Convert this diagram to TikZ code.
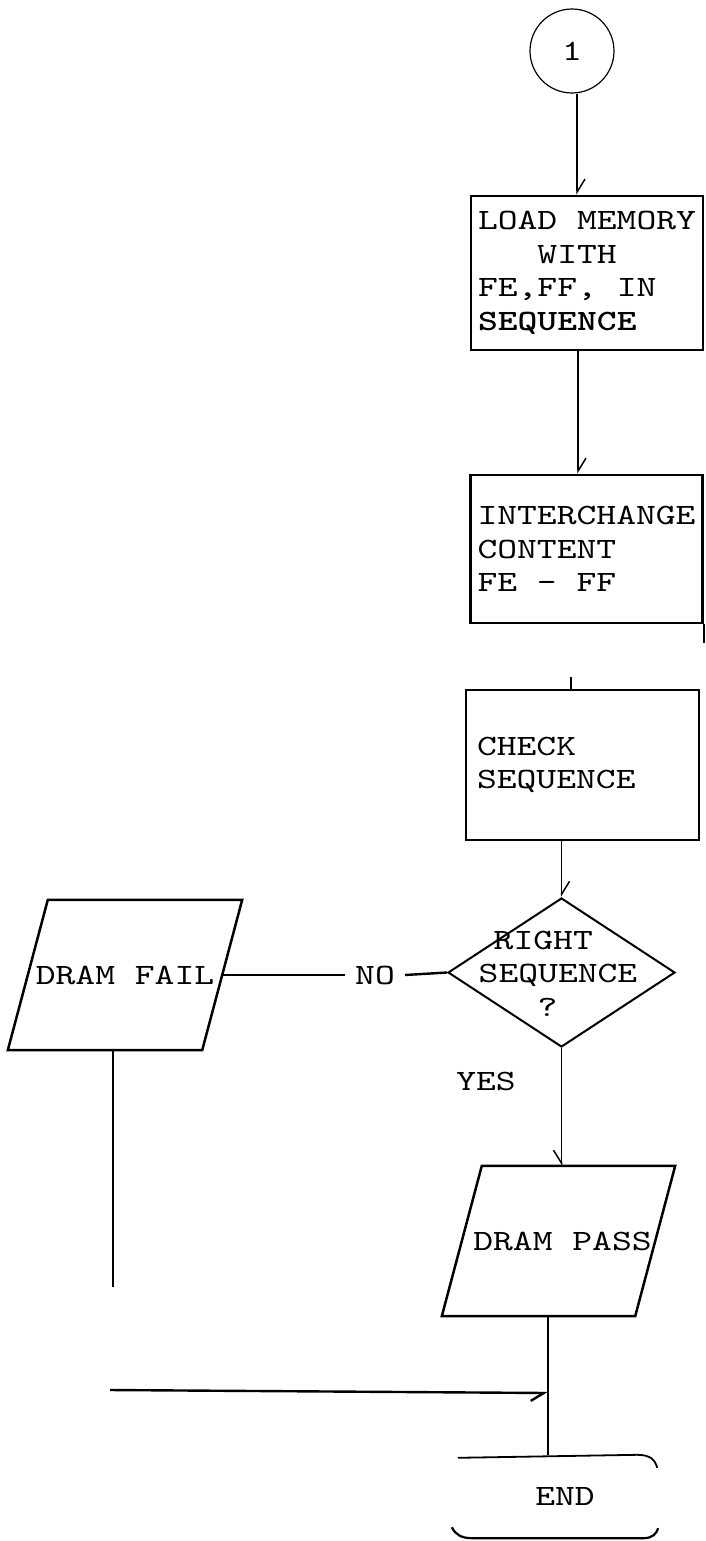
\documentclass[tikz,border=0pt]{standalone}
\usepackage{fontspec}
\newfontfamily\typew{lmmono10-regular.otf}[FakeStretch=1.28, BoldFont=lmmonolt10-bold.otf]
\usetikzlibrary{shapes.geometric, arrows.meta}

\tikzset{
  txt/.style={font=\typew\fontsize{29.5}{33.5}\selectfont},
  procbox/.style={txt, draw, line width=2.5pt, rectangle, align=flush left,
    inner xsep=7pt, inner ysep=0pt, text width=218pt, minimum width=232pt},
  % body of an input/output block; its slanted outline is drawn by \iooutline
  iobody/.style={txt, inner sep=0pt, minimum width=194pt, minimum height=150pt},
  decis/.style={draw, diamond, line width=2pt, minimum width=227pt,
    minimum height=149pt, inner sep=0pt},
  conn/.style={line width=1.5pt},
  heavy/.style={line width=2.4pt},
  barbl/.style={-{Straight Barb[harpoon, length=13pt, width=16pt]}},
  barbr/.style={-{Straight Barb[harpoon, swap, length=13pt, width=16pt]}},
}
% parallelogram round a named node, slant of 20pt on each side
\newcommand\iooutline[1]{%
  \draw[line width=2.5pt, line join=miter]
    ([xshift=20pt]#1.north west) -- ([xshift=20pt]#1.north east)
    -- ([xshift=-20pt]#1.south east) -- ([xshift=-20pt]#1.south west) -- cycle;}

\begin{document}
\begin{tikzpicture}[x=1pt, y=-1pt]
\useasboundingbox (0,0) rectangle (706,1541);

% connector circle
\node[txt, circle, draw, line width=1.2pt, minimum size=84pt, inner sep=0pt] (c1) at (572,51) {1};

% process boxes
\node[procbox, minimum height=154pt] (load) at (587,273)
  {LOAD MEMORY\\\phantom{WIT}WITH\\FE,FF, IN\\\textbf{SEQUENCE}};
\node[procbox, minimum height=148pt] (inter) at (586.5,549)
  {INTERCHANGE\\CONTENT\\FE - FF};
\node[procbox, minimum height=150pt, inner xsep=11pt, text width=211pt] (check) at (582.5,765)
  {CHECK\\SEQUENCE};

% decision
\node[decis] (dec) at (561.5,972.5) {};
\node[txt, align=flush left, inner sep=0pt] (dect) at (558,973.5)
  {\hspace*{15pt}RIGHT\\SEQUENCE\\\hspace*{59pt}?};

% outputs
\node[iobody] (fail) at (125,975) {DRAM FAIL};
\iooutline{fail}
\node[iobody, minimum width=193pt] (pass) at (558.5,1241) {\hspace*{8pt}DRAM PASS};
\iooutline{pass}

% branch labels
\node[txt, inner xsep=10pt] (no) at (375,975) {NO};
\node[txt] (yes) at (486,1081) {YES};

% terminator
\node[txt, minimum width=206pt, minimum height=83pt] (endn) at (555,1496.5) {\hspace*{20pt}END};
\draw[line width=1.8pt] ([xshift=6pt,yshift=-3pt]endn.north west)
  -- ([xshift=-21pt]endn.north east)
  .. controls ([xshift=-8pt]endn.north east) and ([xshift=-3pt,yshift=-5pt]endn.north east)
  .. ([xshift=-1pt,yshift=-13pt]endn.north east);
\draw[line width=2.2pt] ([yshift=11pt]endn.south west)
  .. controls ([xshift=4pt,yshift=3pt]endn.south west) and ([xshift=10pt]endn.south west)
  .. ([xshift=21pt]endn.south west)
  -- ([xshift=-15pt]endn.south east)
  .. controls ([xshift=-6pt]endn.south east) and ([xshift=-2pt,yshift=4pt]endn.south east)
  .. ([yshift=10pt]endn.south east);

% flow lines
\draw[conn, barbl] ([xshift=5pt]c1.south) -- ([xshift=5pt]c1.south |- load.north);
\draw[conn, barbl] ([xshift=-9pt]load.south) -- ([xshift=-9pt]load.south |- inter.north);
\draw[conn] (inter.south east) -- ++(0,19);
\draw[line width=2.2pt] ([xshift=-11.5pt]check.north) -- ++(0,-12);
\draw[conn, barbl] (dec.north |- check.south) -- (dec.north);
\draw[heavy] (dec.west) -- (no.east);
\draw[heavy] (no.west) -- (fail.east);
\draw[conn, barbr] (dec.south) -- (dec.south |- pass.north);

\coordinate (fd) at (113,1287);
\draw[conn] (fail.south -| fd) -- (fd);

\coordinate (j) at (548,1393);
\coordinate (fl) at (110,1390);
\draw[conn] (pass.south -| j) -- (j) -- (j |- endn.north);
\draw[heavy, barbr] (fl) -- (j);
\end{tikzpicture}
\end{document}
